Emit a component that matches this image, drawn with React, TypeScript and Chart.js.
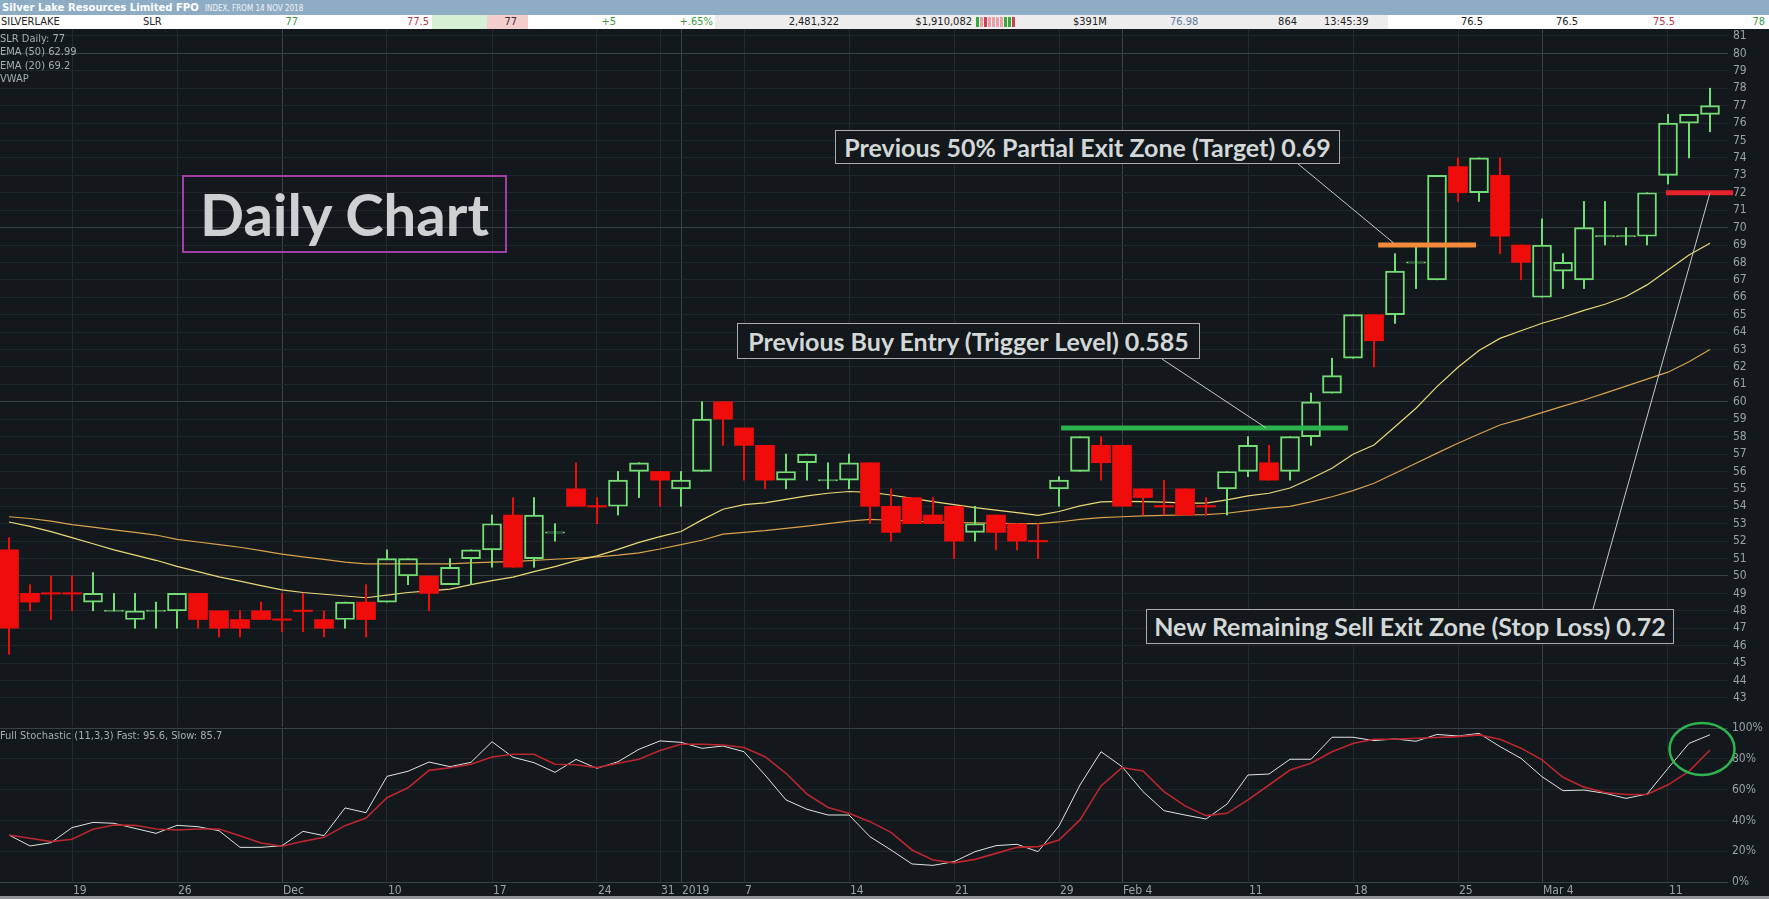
import React, { useEffect, useRef } from 'react';
import { Chart, registerables } from 'chart.js';

Chart.register(...registerables);

// ---------- data ----------
const dates = [
  '14 Nov', '15 Nov', '16 Nov', '19 Nov', '20 Nov', '21 Nov', '22 Nov', '23 Nov', '26 Nov', '27 Nov', '28 Nov', '29 Nov', '30 Nov',
  '3 Dec', '4 Dec', '5 Dec', '6 Dec', '7 Dec', '10 Dec', '11 Dec', '12 Dec', '13 Dec', '14 Dec', '17 Dec', '18 Dec', '19 Dec', '20 Dec', '21 Dec', '24 Dec', '27 Dec', '28 Dec', '31 Dec',
  '2 Jan', '3 Jan', '4 Jan', '7 Jan', '8 Jan', '9 Jan', '10 Jan', '11 Jan', '14 Jan', '15 Jan', '16 Jan', '17 Jan', '18 Jan', '21 Jan', '22 Jan', '23 Jan', '24 Jan', '25 Jan', '29 Jan', '30 Jan', '31 Jan',
  '1 Feb', '4 Feb', '5 Feb', '6 Feb', '7 Feb', '8 Feb', '11 Feb', '12 Feb', '13 Feb', '14 Feb', '15 Feb', '18 Feb', '19 Feb', '20 Feb', '21 Feb', '22 Feb', '25 Feb', '26 Feb', '27 Feb', '28 Feb',
  '1 Mar', '4 Mar', '5 Mar', '6 Mar', '7 Mar', '8 Mar', '11 Mar', '12 Mar', '13 Mar',
];

const opens = [
  51.5, 49, 49, 49, 48.5, 48, 47.5, 48, 48, 49, 48, 47.5, 48,
  47.5, 48, 47.5, 47.5, 48.5, 48.5, 50, 50, 49.5, 51, 51.5, 53.5, 51, 52.5, 55, 54, 54, 56, 56,
  55, 56, 60, 58.5, 57.5, 55.5, 56.5, 55.5, 55.5, 56.5, 54, 54.5, 53.5, 54, 52.5, 53.5, 53, 52, 55, 56, 57.5,
  57.5, 55, 54, 55, 54, 55, 56, 56.5, 56, 58, 60.5, 62.5, 65, 65, 68, 67, 73.5, 72, 73, 69,
  66, 67.5, 67, 69.5, 69.5, 69.5, 73, 76, 76.5,
];
const highs = [
  52.2, 49.5, 50, 50, 50.2, 49, 49, 48.5, 49, 49, 48, 48, 48.5,
  49, 49, 48, 48.5, 49.5, 51.5, 51, 50, 51, 51.5, 53.5, 54.5, 54.5, 53, 56.5, 54.5, 56, 56.5, 56,
  56, 60, 60, 58.5, 57.5, 57, 57, 56.5, 57, 56.5, 55, 54.5, 54.5, 54, 54, 53.5, 53, 53, 55.7, 58, 58,
  57.5, 55, 55.5, 55, 54.5, 56, 58, 57.5, 58, 60.5, 62.5, 65, 65, 68.5, 69, 73, 74, 74, 74, 69,
  70.5, 68.5, 71.5, 71.5, 70, 72, 76.5, 76.5, 78,
];
const lows = [
  45.5, 48, 47.5, 48, 48, 48, 47, 47, 47, 47, 46.5, 46.5, 47.5,
  46.8, 46.8, 46.5, 47, 46.5, 48.5, 49.5, 48, 49.5, 49.5, 50.5, 50.5, 50.5, 52, 54, 53, 53.5, 54.5, 54,
  54, 56, 57.5, 55.5, 55, 55, 55.5, 55, 55, 53, 52, 53, 53, 51, 52, 51.5, 51.5, 51, 54, 56, 55.5,
  54, 53.5, 53.5, 53.5, 53.5, 53.5, 55.7, 55.5, 55.5, 57.5, 60.5, 62.5, 62, 64.5, 66.5, 67, 71.5, 71.5, 68.5, 67,
  66, 66.5, 66.5, 69, 69, 69, 72.5, 74, 75.5,
];
const closes = [
  47, 48.5, 49, 49, 49, 48, 48, 48, 49, 47.5, 47, 47, 47.5,
  47.5, 48, 47, 48.5, 47.5, 51, 51, 49, 50.5, 51.5, 53, 50.5, 53.5, 52.5, 54, 54, 55.5, 56.5, 55.5,
  55.5, 59, 59, 57.5, 55.5, 56, 57, 55.5, 56.5, 54, 52.5, 53, 53, 52, 53, 52.5, 52, 52, 55.5, 58, 56.5,
  54, 54.5, 54, 53.5, 54, 56, 57.5, 55.5, 58, 60, 61.5, 65, 63.5, 67.5, 68, 73, 72, 74, 69.5, 68,
  69, 68, 70, 69.5, 69.5, 72, 76, 76.5, 77,
];
// doji sessions (open = close) that the chart draws in the "up" colour
const dojiUp = [5, 7, 26, 39, 67, 76, 77];

const ema20 = [
  53.1, 52.85, 52.55, 52.2, 51.85, 51.5, 51.2, 50.9, 50.55, 50.25,
  49.95, 49.7, 49.45, 49.2, 49.05, 48.95, 48.85, 48.75, 48.9, 49.05,
  49.15, 49.25, 49.5, 49.73, 49.93, 50.25, 50.54, 50.88, 51.15, 51.53,
  51.93, 52.26, 52.55, 53.22, 53.83, 54.1, 54.2, 54.4, 54.6, 54.75,
  54.85, 54.8, 54.65, 54.45, 54.27, 54.1, 53.92, 53.78, 53.64, 53.48,
  53.7, 54.02, 54.25, 54.28, 54.27, 54.24, 54.18, 54.18, 54.37, 54.6,
  54.75, 55.05, 55.6, 56.18, 56.99, 57.52, 58.57, 59.63, 60.87, 61.98,
  62.94, 63.64, 64.08, 64.51, 64.85, 65.25, 65.6, 66.04, 66.71, 67.57,
  68.43, 69.1,
];
const ema50 = [
  53.4, 53.3, 53.15, 52.95, 52.8, 52.65, 52.5, 52.35, 52.1, 51.95,
  51.8, 51.65, 51.45, 51.25, 51.1, 50.95, 50.8, 50.7, 50.7, 50.7,
  50.7, 50.7, 50.75, 50.8, 50.82, 50.9, 50.96, 51.03, 51.1, 51.2,
  51.33, 51.55, 51.8, 52.05, 52.4, 52.5, 52.6, 52.73, 52.86, 53.0,
  53.15, 53.25, 53.2, 53.15, 53.1, 53.07, 53.05, 53.02, 53.0, 53.0,
  53.1, 53.25, 53.35, 53.4, 53.45, 53.48, 53.5, 53.52, 53.6, 53.75,
  53.9, 54.0, 54.25, 54.55, 54.9, 55.32, 55.9, 56.47, 57.05, 57.62,
  58.15, 58.67, 59.0, 59.38, 59.75, 60.1, 60.5, 60.9, 61.3, 61.7,
  62.3, 63.0,
];

const stochFast = [
  30.5, 23.4, 25.5, 35.3, 38.7, 38.1, 34.8, 31.6, 36.8, 35.9,
  33.3, 22.5, 22.5, 23.6, 32.9, 30.1, 48.1, 45.0, 68.6, 71.9,
  77.9, 74.9, 77.7, 91.1, 81.0, 77.5, 71.2, 79.6, 73.8, 78.1,
  86.2, 91.6, 90.7, 86.8, 88.3, 84.6, 69.5, 53.3, 47.2, 43.5,
  43.5, 29.4, 20.8, 11.7, 10.8, 13.2, 19.7, 23.6, 24.5, 19.7,
  36.4, 63.0, 84.6, 74.9, 58.7, 46.3, 43.5, 40.9, 50.6, 69.5,
  70.1, 79.7, 79.7, 94.0, 94.0, 91.8, 92.9, 91.4, 95.8, 94.8,
  96.5, 87.9, 80.3, 68.4, 59.3, 59.7, 57.6, 54.3, 57.1, 73.8,
  90.0, 95.6,
];
const stochSlow = [
  30.5, 28.4, 26.2, 27.7, 34.2, 37.0, 36.8, 34.4, 33.8, 34.4,
  34.4, 30.1, 25.3, 23.2, 26.4, 29.0, 36.6, 41.5, 54.7, 61.2,
  72.5, 74.2, 76.4, 81.2, 83.0, 83.0, 76.5, 76.1, 74.3, 77.1,
  79.7, 85.4, 89.4, 89.4, 89.0, 87.3, 81.4, 70.6, 57.1, 48.4,
  44.6, 39.2, 32.2, 20.8, 14.3, 12.4, 14.7, 18.6, 22.5, 23.0,
  27.3, 40.3, 62.4, 74.3, 72.1, 58.7, 49.4, 43.1, 44.6, 53.3,
  63.0, 72.7, 77.1, 84.6, 90.0, 92.7, 92.7, 93.3, 93.8, 94.4,
  95.5, 92.7, 86.9, 79.3, 68.0, 61.6, 58.1, 56.8, 56.8, 63.1,
  71.8, 85.7,
];

// x-axis ticks (session index -> label)
const xTickIndex = [3, 8, 13, 18, 23, 28, 31, 32, 35, 40, 45, 50, 53, 59, 64, 69, 73, 79];
const xTickLabels = ['19', '26', 'Dec', '10', '17', '24', '31', '2019', '7', '14', '21', '29', 'Feb 4', '11', '18', '25', 'Mar 4', '11'];
const monthStartIndex = [13, 32, 53, 73];
const priceTickValues = [43, 44, 45, 46, 47, 48, 49, 50, 51, 52, 53, 54, 55, 56, 57, 58, 59, 60, 61, 62, 63, 64, 65, 66, 67, 68, 69, 70, 71, 72, 73, 74, 75, 76, 77, 78, 79, 80, 81];
const stochTickValues = [0, 20, 40, 60, 80, 100];

// horizontal trade levels (cents) and the sessions they span
const levelValues = [58.5, 69, 72];
const levelFrom = [50.1, 65.2, 78.9];
const levelTo = [63.76, 69.86, 82.1];
const levelColors = ['#2bb14d', '#f3893a', '#e6232d'];
const levelTexts = [
  'Previous Buy Entry (Trigger Level) 0.585',
  'Previous 50% Partial Exit Zone (Target) 0.69',
  'New Remaining Sell Exit Zone (Stop Loss) 0.72',
];
// where each leader line touches its level (session index, price)
const leaderToIndex = [59.86, 65.95, 81.0];
const leaderToValue = [58.5, 69.1, 72];

// ---------- layout / style ----------
const W = 1769;
const PLOT_RIGHT = 1728;
const PRICE_TOP = 29;
const PRICE_H = 698;
const STOCH_TOP = 714;
const STOCH_H = 185;
const BG = '#12181b';
const GRID_FAINT = '#1f272a';
const GRID_BRIGHT = '#394144';
const VLINE_FAINT = '#232b2e';
const VLINE_BRIGHT = '#3c4447';
const AXIS_TEXT = '#9aa2a5';
const UP = '#74dc74';
const DOWN = '#f10c0c';
const NARROW = "'Liberation Sans Narrow', 'DejaVu Sans Condensed', 'Roboto Condensed', 'Liberation Sans', sans-serif";
const BOLD_FONT = "Lato, 'Open Sans', 'Noto Sans', sans-serif";

const X_MIN = -9 / 21;
const X_MAX = (PLOT_RIGHT - 9) / 21;
const PRICE_MAX = 81.4;
const PRICE_MIN = 41.33;

// annotation boxes (page px)
const boxes = [
  { left: 737, top: 323, width: 463, height: 36, anchor: [1162, 359] },
  { left: 835, top: 130, width: 505, height: 34, anchor: [1297, 163] },
  { left: 1146, top: 609, width: 528, height: 35, anchor: [1593, 609] },
];

const isUp = (i: number) =>
  closes[i] > opens[i] || (closes[i] === opens[i] && dojiUp.includes(i));

const xGridColor = (c: any) =>
  c.tick && monthStartIndex.includes(c.tick.value) ? VLINE_BRIGHT : VLINE_FAINT;

export default function App() {
  const priceRef = useRef<HTMLCanvasElement>(null);
  const stochRef = useRef<HTMLCanvasElement>(null);

  useEffect(() => {
    const charts: Chart[] = [];
    const idx = dates.map((_, i) => i);

    const leaderPlugin = {
      id: 'leaders',
      afterDatasetsDraw(chart: any) {
        const { ctx, scales } = chart;
        ctx.save();
        ctx.strokeStyle = '#c5caca';
        ctx.lineWidth = 1;
        boxes.forEach((b, k) => {
          ctx.beginPath();
          ctx.moveTo(b.anchor[0], b.anchor[1] - PRICE_TOP);
          ctx.lineTo(scales.x.getPixelForValue(leaderToIndex[k]), scales.y.getPixelForValue(leaderToValue[k]));
          ctx.stroke();
        });
        ctx.restore();
      },
    };

    if (priceRef.current) {
      const c = new Chart(priceRef.current, {
        type: 'bar',
        data: {
          datasets: [
            ...levelValues.map((v, k) => ({
              type: 'line' as const,
              data: [{ x: levelFrom[k], y: v }, { x: levelTo[k], y: v }],
              borderColor: levelColors[k],
              borderWidth: 5,
              borderCapStyle: 'butt' as const,
              pointRadius: 0,
              clip: false as any,
              order: 0,
            })),
            {
              type: 'bar' as const,
              data: idx.map((i) => ({
                x: i,
                y: opens[i] === closes[i] ? [closes[i] - 0.04, closes[i] + 0.04] : [opens[i], closes[i]],
              })),
              backgroundColor: (cx: any) => (isUp(cx.dataIndex) ? 'rgba(0,0,0,0)' : DOWN),
              borderColor: (cx: any) => (isUp(cx.dataIndex) ? UP : DOWN),
              borderWidth: (cx: any) => (isUp(cx.dataIndex) ? 1.3 : 0),
              borderSkipped: false,
              barThickness: 19,
              grouped: false,
              order: 1,
            },
            {
              type: 'bar' as const,
              data: idx.map((i) => ({ x: i, y: [Math.max(opens[i], closes[i]), highs[i]] })),
              backgroundColor: (cx: any) => (isUp(cx.dataIndex) ? UP : DOWN),
              borderWidth: 0,
              barThickness: 1.4,
              grouped: false,
              order: 2,
            },
            {
              type: 'bar' as const,
              data: idx.map((i) => ({ x: i, y: [lows[i], Math.min(opens[i], closes[i])] })),
              backgroundColor: (cx: any) => (isUp(cx.dataIndex) ? UP : DOWN),
              borderWidth: 0,
              barThickness: 1.4,
              grouped: false,
              order: 2,
            },
            {
              type: 'line' as const,
              data: idx.map((i) => ({ x: i, y: ema20[i] })),
              borderColor: '#ecd877',
              borderWidth: 1.2,
              pointRadius: 0,
              tension: 0,
              order: 3,
            },
            {
              type: 'line' as const,
              data: idx.map((i) => ({ x: i, y: ema50[i] })),
              borderColor: '#d9a24c',
              borderWidth: 1.2,
              pointRadius: 0,
              tension: 0,
              order: 3,
            },
          ] as any,
        },
        options: {
          animation: false,
          responsive: false,
          maintainAspectRatio: false,
          devicePixelRatio: 1,
          layout: { padding: 0 },
          plugins: { legend: { display: false }, tooltip: { enabled: false } },
          scales: {
            x: {
              type: 'linear',
              min: X_MIN,
              max: X_MAX,
              offset: false,
              position: 'bottom',
              ticks: { display: false },
              grid: { offset: false, drawTicks: false, color: xGridColor, lineWidth: 1 },
              border: { display: false },
              afterBuildTicks: (s: any) => {
                s.ticks = xTickIndex.map((v) => ({ value: v }));
              },
              afterFit: (s: any) => {
                s.height = 0;
                s.paddingLeft = 0;
                s.paddingRight = 0;
              },
            },
            y: {
              type: 'linear',
              position: 'right',
              min: PRICE_MIN,
              max: PRICE_MAX,
              beginAtZero: false,
              afterBuildTicks: (s: any) => {
                s.ticks = priceTickValues.map((v) => ({ value: v }));
              },
              afterFit: (s: any) => {
                s.width = W - PLOT_RIGHT;
                s.paddingTop = 0;
                s.paddingBottom = 0;
              },
              ticks: {
                color: AXIS_TEXT,
                padding: 5,
                font: { family: NARROW, size: 12 },
                callback: (v: any) => String(v),
              },
              grid: {
                drawTicks: false,
                color: (cx: any) => (cx.tick && cx.tick.value % 10 === 0 ? GRID_BRIGHT : GRID_FAINT),
              },
              border: { display: false },
            },
          },
        } as any,
        plugins: [leaderPlugin],
      });
      charts.push(c);
    }

    const ellipsePlugin = {
      id: 'circle',
      afterDatasetsDraw(chart: any) {
        const { ctx, scales } = chart;
        ctx.save();
        ctx.strokeStyle = '#2fb34e';
        ctx.lineWidth = 2.5;
        ctx.beginPath();
        ctx.ellipse(scales.x.getPixelForValue(80.62), scales.y.getPixelForValue(86.4), 32.5, 26, 0, 0, Math.PI * 2);
        ctx.stroke();
        ctx.restore();
      },
    };

    if (stochRef.current) {
      const c = new Chart(stochRef.current, {
        type: 'line',
        data: {
          datasets: [
            {
              data: idx.map((i) => ({ x: i, y: stochSlow[i] })),
              borderColor: '#bd2630',
              borderWidth: 1.6,
              pointRadius: 0,
              tension: 0,
            },
            {
              data: idx.map((i) => ({ x: i, y: stochFast[i] })),
              borderColor: '#dfe3e3',
              borderWidth: 1,
              pointRadius: 0,
              tension: 0,
            },
          ],
        },
        options: {
          animation: false,
          responsive: false,
          maintainAspectRatio: false,
          devicePixelRatio: 1,
          layout: { padding: { top: 14, left: 0, right: 0, bottom: 0 } },
          plugins: { legend: { display: false }, tooltip: { enabled: false } },
          scales: {
            x: {
              type: 'linear',
              min: X_MIN,
              max: X_MAX,
              offset: false,
              position: 'bottom',
              afterBuildTicks: (s: any) => {
                s.ticks = xTickIndex.map((v) => ({ value: v }));
              },
              afterFit: (s: any) => {
                s.height = 17;
                s.paddingLeft = 0;
                s.paddingRight = 0;
              },
              ticks: {
                autoSkip: false,
                maxRotation: 0,
                minRotation: 0,
                align: 'start',
                labelOffset: 1,
                padding: 2,
                color: AXIS_TEXT,
                font: { family: NARROW, size: 12 },
                callback: (v: any) => {
                  const k = xTickIndex.indexOf(v);
                  return k >= 0 ? xTickLabels[k] : '';
                },
              },
              grid: { offset: false, drawTicks: false, color: xGridColor },
              border: { display: false },
            },
            y: {
              type: 'linear',
              position: 'right',
              min: 0,
              max: 100,
              afterBuildTicks: (s: any) => {
                s.ticks = stochTickValues.map((v) => ({ value: v }));
              },
              afterFit: (s: any) => {
                s.width = W - PLOT_RIGHT;
                s.paddingTop = 0;
                s.paddingBottom = 0;
              },
              ticks: {
                color: AXIS_TEXT,
                padding: 4,
                font: { family: NARROW, size: 12 },
                callback: (v: any) => v + '%',
              },
              grid: {
                drawTicks: false,
                color: (cx: any) =>
                  cx.tick && (cx.tick.value === 0 || cx.tick.value === 100) ? GRID_BRIGHT : GRID_FAINT,
              },
              border: { display: false },
            },
          },
        } as any,
        plugins: [ellipsePlugin],
      });
      charts.push(c);
    }

    return () => charts.forEach((c) => c.destroy());
  }, []);

  const abs = (extra: React.CSSProperties): React.CSSProperties => ({
    position: 'absolute',
    whiteSpace: 'nowrap',
    ...extra,
  });
  const rightText = (x: number, text: string, color: string, top = 15) => (
    <div
      key={text + x}
      style={abs({ left: x - 150, width: 150, top, height: 14, lineHeight: '14px', textAlign: 'right', color, fontSize: 11 })}
    >
      {text}
    </div>
  );
  const leftText = (x: number, text: string, color: string, top = 15) => (
    <div key={text + x} style={abs({ left: x, top, height: 14, lineHeight: '14px', color, fontSize: 11 })}>
      {text}
    </div>
  );

  const tickBars = ['#3aa83a', '#e9a0a6', '#d04050', '#e9a0a6', '#e9a0a6', '#e9a0a6', '#e9a0a6', '#3aa83a', '#3aa83a', '#d04050'];

  return (
    <div
      style={{
        position: 'fixed',
        left: 0,
        top: 0,
        width: W,
        height: 899,
        background: BG,
        overflow: 'hidden',
        fontFamily: NARROW,
      }}
    >
      {/* title bar */}
      <div style={abs({ left: 0, top: 0, width: W, height: 15, background: '#8eacc4' })} />
      <div style={abs({ left: 2, top: 0, height: 15, lineHeight: '15px', color: '#ffffff', fontWeight: 700, fontSize: 11.2 })}>
        Silver Lake Resources Limited FPO
      </div>
      <div style={abs({ left: 205, top: 1, height: 15, lineHeight: '15px', color: '#eef3f7', fontSize: 8 })}>
        INDEX, FROM 14 NOV 2018
      </div>

      {/* quote row */}
      <div style={abs({ left: 0, top: 15, width: W, height: 14, background: '#ffffff' })} />
      <div style={abs({ left: 432, top: 15, width: 55, height: 14, background: '#d6f0d6' })} />
      <div style={abs({ left: 487, top: 15, width: 41, height: 14, background: '#f4cdcd' })} />
      <div style={abs({ left: 715, top: 15, width: 673, height: 14, background: '#ededed' })} />
      {leftText(1, 'SILVERLAKE', '#222')}
      {leftText(143, 'SLR', '#222')}
      {rightText(298, '77', '#3c9a3c')}
      {rightText(429, '77.5', '#b23a4a')}
      {rightText(517, '77', '#333')}
      {rightText(616, '+5', '#3c9a3c')}
      {rightText(713, '+.65%', '#3c9a3c')}
      {rightText(839, '2,481,322', '#222')}
      {rightText(972, '$1,910,082', '#222')}
      {tickBars.map((c, k) => (
        <div key={'tb' + k} style={abs({ left: 976 + k * 4, top: 17, width: 3, height: 10, background: c })} />
      ))}
      {leftText(1073, '$391M', '#222')}
      {leftText(1170, '76.98', '#5b7c9c')}
      {rightText(1297, '864', '#222')}
      {leftText(1324, '13:45:39', '#222')}
      {rightText(1483, '76.5', '#222')}
      {rightText(1578, '76.5', '#222')}
      {rightText(1675, '75.5', '#b23a4a')}
      {rightText(1765, '78', '#3c9a3c')}

      {/* charts */}
      <canvas
        ref={priceRef}
        width={W}
        height={PRICE_H}
        style={{ position: 'absolute', left: 0, top: PRICE_TOP, width: W, height: PRICE_H }}
      />
      <canvas
        ref={stochRef}
        width={W}
        height={STOCH_H}
        style={{ position: 'absolute', left: 0, top: STOCH_TOP, width: W, height: STOCH_H }}
      />

      {/* legend texts */}
      {['SLR Daily: 77', 'EMA (50) 62.99', 'EMA (20) 69.2', 'VWAP'].map((t, k) => (
        <div key={t} style={abs({ left: 0, top: 33 + k * 13.3, lineHeight: '12px', fontSize: 11, color: '#a6aeaf' })}>
          {t}
        </div>
      ))}
      <div style={abs({ left: 0, top: 730, lineHeight: '12px', fontSize: 11, color: '#a6aeaf' })}>
        Full Stochastic (11,3,3) Fast: 95.6, Slow: 85.7
      </div>

      {/* Daily Chart label */}
      <div
        style={abs({
          left: 182,
          top: 175,
          width: 325,
          height: 78,
          boxSizing: 'border-box',
          border: '2px solid #a23ea6',
          display: 'flex',
          alignItems: 'center',
          justifyContent: 'center',
          fontFamily: BOLD_FONT,
          fontWeight: 700,
          fontSize: 58,
          color: '#cdd1d1',
          lineHeight: 1,
        })}
      >
        Daily Chart
      </div>

      {/* level annotations */}
      {boxes.map((b, k) => (
        <div
          key={'box' + k}
          style={abs({
            left: b.left,
            top: b.top,
            width: b.width,
            height: b.height,
            boxSizing: 'border-box',
            border: '1px solid #a9adad',
            background: BG,
            display: 'flex',
            alignItems: 'center',
            justifyContent: 'center',
            fontFamily: BOLD_FONT,
            fontWeight: 700,
            fontSize: 25,
            color: '#d3d7d7',
            lineHeight: 1,
          })}
        >
          {levelTexts[k]}
        </div>
      ))}

      <div style={abs({ left: 0, top: 896, width: W, height: 3, background: '#8f9597' })} />
    </div>
  );
}
